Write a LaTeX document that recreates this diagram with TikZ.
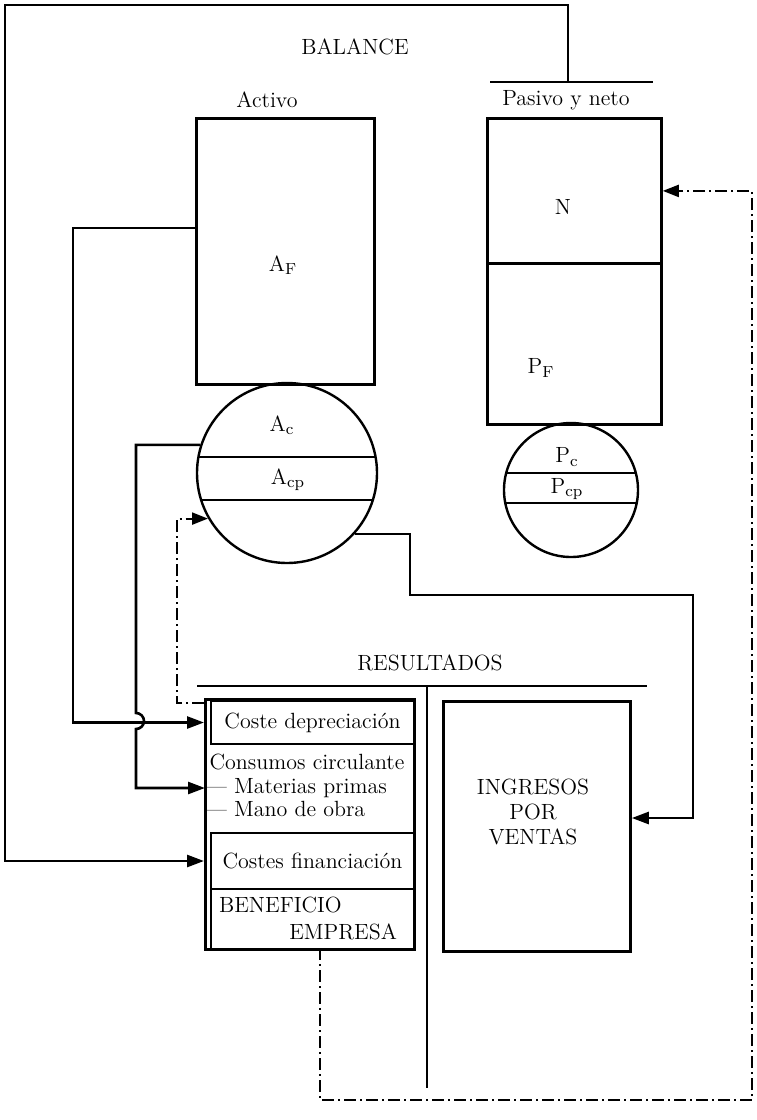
\documentclass[tikz,border=0pt]{standalone}
\usepackage{tikz}
\usetikzlibrary{arrows.meta, positioning, calc}

\newcommand{\acct}[2]{#1$_{\mathrm{#2}}$}

\tikzset{
  every node/.style={font=\fontsize{11}{12.5}\selectfont},
  box/.style={draw, line width=1.4pt, inner sep=0pt, anchor=north west},
  subbox/.style={draw, line width=1pt, inner sep=0pt, anchor=north west},
  ball/.style={draw, circle, line width=1.2pt, inner sep=0pt},
  chord/.style={line width=1pt},
  bar/.style={line width=1.4pt},
  flow/.style={line width=1.3pt, -{Triangle[length=8.5pt, width=6pt]}},
  dashflow/.style={line width=1.1pt, dash pattern=on 6pt off 2pt on 1pt off 2pt,
    -{Triangle[length=8pt, width=6pt]}},
}

\begin{document}
\begin{tikzpicture}[x=0.5pt, y=-0.5pt]
  \useasboundingbox (0,0) rectangle (756,1120);

  % Balance
  \node (balance) at (355,47) {BALANCE};
  \node (activo) at (267,100) {Activo};
  \node (pasivo) at (566,100) {Pasivo y neto};
  \coordinate (barL) at (490,82);
  \coordinate (barR) at (653,82);
  \coordinate (barM) at (568,82);
  \draw[bar] (barL) -- (barR);

  \node[box, minimum width=89pt, minimum height=133pt] (af) at (195,117) {};
  \node (aflbl) at (283,265) {\acct{A}{F}};

  \node[box, minimum width=87pt, minimum height=72.5pt] (pn) at (486,117) {};
  \node[box, minimum width=87pt, minimum height=80.5pt] (pf) at (486,262) {};
  \node (pnlbl) at (563,207) {N};
  \node (pflbl) at (541,368) {\acct{P}{F}};

  % Circulante activo
  \node[ball, minimum size=90pt] (ac) at (287,473) {};
  \begin{scope}
    \clip (ac.center) circle[radius=45pt];
    \draw[chord] (150,457) -- (420,457);
    \draw[chord] (150,500) -- (420,500);
  \end{scope}
  \node (aclbl) at (282,425) {\acct{A}{c}};
  \node (acplbl) at (288,480) {\acct{A}{cp}};

  % Circulante pasivo
  \node[ball, minimum size=67pt] (pc) at (571,490) {};
  \begin{scope}
    \clip (pc.center) circle[radius=33.5pt];
    \draw[chord] (480,473) -- (660,473);
    \draw[chord] (480,503) -- (660,503);
  \end{scope}
  \node (pclbl) at (567,457) {\acct{P}{c}};
  \node (pcplbl) at (567,489) {\acct{P}{cp}};

  % Resultados
  \node (resultados) at (430,663) {RESULTADOS};
  \coordinate (rbarL) at (197,686);
  \coordinate (rbarR) at (647,686);
  \coordinate (divT) at (427,686);
  \coordinate (divB) at (427,1088);
  \draw[bar] (rbarL) -- (rbarR);
  \draw[bar] (divT) -- (divB);

  \node[box, minimum width=104.5pt, minimum height=125pt] (resleft) at (204,698) {};
  \node[subbox, minimum width=101.5pt, minimum height=21.5pt] (coste) at (210,700) {Coste depreciación};
  \node (consumos) at (307,762) {Consumos circulante};
  \node[anchor=west, inner sep=0pt] (matprim) at (205,788) {--- Materias primas};
  \node[anchor=west, inner sep=0pt] (manobra) at (205,809) {--- Mano de obra};
  \node[subbox, minimum width=101.5pt, minimum height=28pt] (costfin) at (210,832) {Costes financiación};
  \node[subbox, minimum width=101.5pt, minimum height=30pt] (benef) at (210,888) {};
  \node[anchor=west] (beneficio) at (212,905) {BENEFICIO};
  \node[anchor=east] (empresa) at (404,932) {EMPRESA};

  \node[box, minimum width=93.5pt, minimum height=125pt] (ingresos) at (442,700) {};
  \node[align=center] (inglbl) at (533,812) {INGRESOS\\POR\\VENTAS};

  % Flujos
  \coordinate (topL) at (5,5);
  \draw[flow] (barM) |- (topL) |- (costfin.west -| resleft.west);

  \coordinate (afout) at (195,228);
  \coordinate (k1) at (73,228);
  \draw[flow] (afout) -- (k1) |- (coste.west -| resleft.west);

  \coordinate (hopT) at (136,713);
  \draw[flow] (ac.162) -| (hopT) arc[start angle=90, end angle=-90, radius=4pt]
    |- (matprim.west);

  \coordinate (dstart) at (204,703);
  \coordinate (dcorner) at (177,703);
  \draw[dashflow] (dstart) -- (dcorner) |- (ac.210);

  \coordinate (s1) at (410,595);
  \coordinate (s2) at (693,818);
  \draw[flow] (ac.-42) -| (s1) -| (s2) -- (s2 -| ingresos.east);

  \coordinate (bout) at (320,948);
  \coordinate (bcorner) at (752,1100);
  \draw[dashflow] (bout) |- (bcorner) |- (pn.east);
\end{tikzpicture}
\end{document}
